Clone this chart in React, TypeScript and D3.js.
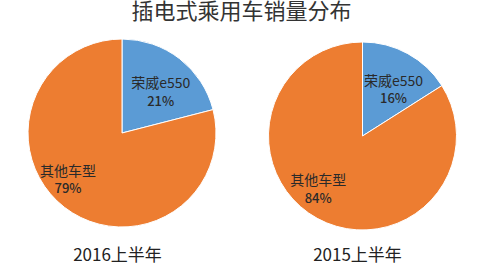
import React from "react";
import * as d3 from "d3";

const title = "插电式乘用车销量分布";
const categories = ["荣威e550", "其他车型"];
const periods = ["2016上半年", "2015上半年"];
const shares2016 = [21, 79];
const shares2015 = [16, 84];
const seriesList = [shares2016, shares2015];
const colors = ["#5B9BD5", "#ED7D31"];

const W = 486;
const H = 265;
const FONT = "'Microsoft YaHei', 'Noto Sans CJK SC', sans-serif";

export default function App() {
  const R = 94;
  const centers = [
    { x: 122, y: 133 },
    { x: 362.5, y: 136 },
  ];
  const labelRadius = [0.62 * R, 0.78 * R];
  const labelShift = [
    [3, 5],
    [-9, -11],
  ];
  const pie = d3
    .pie<number>()
    .sort(null)
    .value((d) => d);
  const arc = d3.arc<d3.PieArcDatum<number>>().innerRadius(0).outerRadius(R);

  return (
    <svg
      width={W}
      height={H}
      style={{ position: "absolute", left: 0, top: 0, background: "#fff" }}
    >
      <text
        x={241.5}
        y={19}
        textAnchor="middle"
        fontFamily={FONT}
        fontSize={22}
        fill="#333"
      >
        {title}
      </text>
      {seriesList.map((vals, si) => {
        const c = centers[si];
        const arcs = pie(vals);
        return (
          <g key={si} transform={`translate(${c.x},${c.y})`}>
            {arcs.map((a, i) => (
              <path
                key={i}
                d={arc(a) || ""}
                fill={colors[i]}
                stroke="#fff"
                strokeWidth={1}
              />
            ))}
            {arcs.map((a, i) => {
              const lr = labelRadius[i];
              const la = d3
                .arc<d3.PieArcDatum<number>>()
                .innerRadius(lr)
                .outerRadius(lr);
              const [cx, cy] = la.centroid(a);
              const lx = cx + labelShift[i][0];
              const ly = cy + labelShift[i][1];
              return (
                <g key={"l" + i} fontFamily={FONT} textAnchor="middle" fill="#2a2a2a">
                  <text x={lx} y={ly - 9} dy="0.35em" fontSize={14}>
                    {categories[i]}
                  </text>
                  <text x={lx} y={ly + 9} dy="0.35em" fontSize={13} fontWeight={500}>
                    {vals[i] + "%"}
                  </text>
                </g>
              );
            })}
            <text
              x={si === 0 ? -4.5 : -5}
              y={255 - c.y}
              dy="0.35em"
              textAnchor="middle"
              fontFamily={FONT}
              fontSize={17}
              fill="#222"
            >
              {periods[si]}
            </text>
          </g>
        );
      })}
    </svg>
  );
}
